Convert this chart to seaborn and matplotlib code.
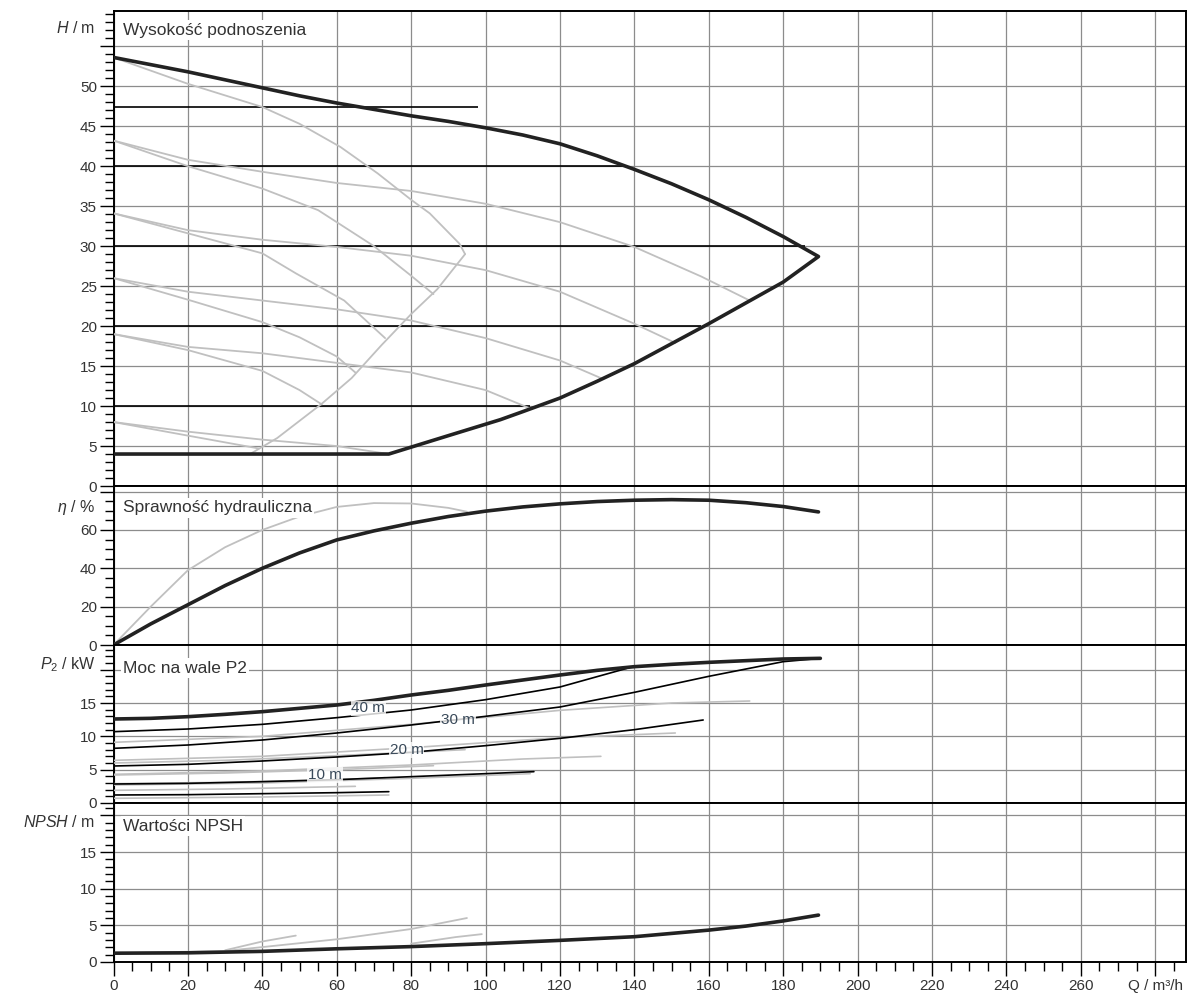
import matplotlib
matplotlib.use("Agg")
import matplotlib.pyplot as plt
import seaborn as sns
from matplotlib.ticker import MultipleLocator, FixedLocator, FuncFormatter

# ---------------- data ----------------
# Head H [m] - thick envelope (max speed curve, then lower limit back to Q=0)
env_q = [0, 10, 20, 30, 40, 50, 60, 70, 80, 90, 100, 110, 120, 130, 140, 150, 160, 170, 180, 189.5,
         180, 170, 160, 150, 140, 130, 120, 110, 104, 90, 74, 0]
env_h = [53.6, 52.7, 51.8, 50.8, 49.8, 48.8, 47.9, 47.1, 46.3, 45.6, 44.8, 43.9, 42.8, 41.3, 39.6,
         37.8, 35.8, 33.6, 31.2, 28.7,
         25.5, 22.9, 20.3, 17.8, 15.3, 13.1, 11.0, 9.3, 8.3, 6.3, 4.0, 4.0]

# grey speed curves (flat family)
h43_q = [0, 20, 40, 60, 80, 100, 120, 140, 158, 171]
h43_h = [43.2, 40.8, 39.3, 37.9, 36.9, 35.3, 33.0, 29.9, 26.2, 23.2]
h34_q = [0, 20, 40, 60, 80, 100, 120, 140, 151]
h34_h = [34.1, 32.0, 30.8, 29.9, 28.8, 27.0, 24.3, 20.3, 17.9]
h26_q = [0, 20, 40, 60, 80, 100, 120, 131]
h26_h = [26.0, 24.3, 23.2, 22.1, 20.7, 18.5, 15.7, 13.5]
h19_q = [0, 20, 40, 60, 80, 100, 112]
h19_h = [19.0, 17.4, 16.6, 15.4, 14.2, 12.0, 9.7]
h8_q = [0, 20, 40, 60, 74]
h8_h = [8.0, 6.8, 5.8, 5.0, 4.0]

# grey speed curves (steep family)
s53_q = [0, 20, 40, 50, 61, 71, 80, 85, 93, 94.5]
s53_h = [53.6, 50.3, 47.4, 45.3, 42.4, 39.1, 35.8, 34.1, 30.3, 29.0]
s43_q = [0, 20, 40, 55, 70, 80, 86]
s43_h = [43.2, 40.0, 37.2, 34.5, 30.0, 26.3, 24.0]
s34_q = [0, 20, 40, 49, 62, 73]
s34_h = [34.1, 31.6, 29.1, 26.6, 23.2, 18.5]
s26_q = [0, 20, 40, 50, 60, 65]
s26_h = [26.0, 23.3, 20.5, 18.6, 16.2, 14.2]
s19_q = [0, 20, 40, 50, 56]
s19_h = [19.0, 17.0, 14.4, 12.0, 10.2]
s8_q = [0, 20, 39]
s8_h = [8.0, 6.3, 4.7]

# grey limit line of the steep family
lim_q = [36.7, 44, 56, 64, 72, 80, 87, 94.5]
lim_h = [4.0, 6.0, 10.3, 13.5, 17.6, 21.5, 24.6, 29.0]

# constant head control lines (black)
dp_levels = [10, 20, 30, 40, 47.4]
dp_q_end = [112, 158, 186, 137, 98]

# Efficiency [%]
eta_q = [0, 10, 20, 30, 40, 50, 60, 70, 80, 90, 100, 110, 120, 130, 140, 150,
         160, 170, 180, 189.5]
eta = [0, 11, 21, 31, 40, 48, 54.8, 59.5, 63.5, 67, 69.8, 72, 73.6, 74.8, 75.5,
       75.8, 75.5, 74.2, 72.2, 69.4]
eta_grey_q = [0, 10, 20, 30, 40, 50, 60, 70, 80, 90, 95]
eta_grey = [0, 20, 39, 51, 60, 67, 72, 74, 73.8, 71.5, 69.5]

# Shaft power P2 [kW]
p_max_q = [0, 10, 20, 30, 40, 50, 60, 70, 80, 90, 100, 110, 120, 130, 140, 150, 160, 170, 180, 190]
p_max = [12.6, 12.7, 12.95, 13.3, 13.7, 14.2, 14.7, 15.4, 16.2, 16.9, 17.7, 18.45, 19.2, 19.9,
         20.45, 20.8, 21.1, 21.35, 21.6, 21.7]
p40_q = [0, 20, 40, 60, 80, 100, 120, 138]
p40 = [10.7, 11.1, 11.8, 12.8, 13.95, 15.5, 17.4, 20.2]
p30_q = [0, 20, 40, 60, 80, 100, 120, 140, 160, 180, 190]
p30 = [8.2, 8.7, 9.45, 10.5, 11.7, 13.0, 14.4, 16.6, 19.0, 21.2, 21.7]
p20_q = [0, 20, 40, 60, 80, 100, 120, 140, 158.5]
p20 = [5.55, 5.8, 6.3, 6.9, 7.6, 8.6, 9.7, 11.0, 12.45]
p10_q = [0, 20, 40, 60, 80, 100, 113]
p10 = [2.85, 2.95, 3.2, 3.5, 3.95, 4.4, 4.7]
p4_q = [0, 20, 40, 60, 74]
p4 = [1.2, 1.25, 1.4, 1.55, 1.7]
p_labels = ["40 m", "30 m", "20 m", "10 m"]
p_label_q = [68.5, 92.6, 78.8, 56.9]
p_label_p = [14.2, 12.45, 7.95, 4.2]

pg43_q = [0, 40, 80, 120, 150, 171]
pg43 = [9.1, 10.0, 11.8, 13.9, 15.0, 15.3]
pg34_q = [0, 40, 80, 120, 151]
pg34 = [6.4, 7.0, 8.3, 9.8, 10.5]
pg26_q = [0, 40, 80, 110, 131]
pg26 = [4.3, 4.8, 5.7, 6.6, 7.0]
pg19_q = [0, 40, 80, 112]
pg19 = [2.7, 3.0, 3.7, 4.4]
pg8_q = [0, 40, 74]
pg8 = [0.7, 0.9, 1.2]
ps53_q = [0, 30, 60, 94.5]
ps53 = [6.0, 6.4, 7.1, 8.0]
ps43_q = [0, 30, 60, 86]
ps43 = [4.2, 4.5, 5.0, 5.6]
ps34_q = [0, 30, 60, 73]
ps34 = [2.9, 3.1, 3.5, 3.8]
ps26_q = [0, 30, 65]
ps26 = [1.9, 2.1, 2.5]

# NPSH [m]
npsh_q = [0, 20, 40, 60, 80, 100, 120, 140, 160, 170, 180, 189.5]
npsh = [1.2, 1.25, 1.45, 1.8, 2.1, 2.5, 2.95, 3.45, 4.35, 4.9, 5.6, 6.4]
ng1_q = [0, 30, 45, 60, 80, 95]
ng1 = [1.2, 1.5, 2.3, 3.1, 4.5, 6.0]
ng2_q = [30, 40, 49]
ng2 = [1.6, 2.8, 3.6]
ng3_q = [80, 92, 99]
ng3 = [2.5, 3.4, 3.8]

x_ticks = list(range(0, 281, 20))
x_tick_labels = [str(v) for v in x_ticks[:-1]] + ["Q / m³/h"]

# ---------------- style ----------------
sns.set_style("ticks")
plt.rcParams["font.family"] = ["Liberation Sans", "DejaVu Sans"]
plt.rcParams["mathtext.fontset"] = "custom"
plt.rcParams["mathtext.it"] = "Liberation Sans:italic"
plt.rcParams["mathtext.rm"] = "Liberation Sans"

GREY = "#c0c0c0"
GRID = "#8c8c8c"
TXT = "#333333"

fig = plt.figure(figsize=(11.95, 10.05), dpi=100)
L, W = 0.0950, 0.8975
ax_h = fig.add_axes([L, 0.5164, W, 0.4726])
ax_e = fig.add_axes([L, 0.3582, W, 0.1582])
ax_p = fig.add_axes([L, 0.2010, W, 0.1572])
ax_n = fig.add_axes([L, 0.0428, W, 0.1582])


def style(ax, ymax, major, minor, hide_from, unit, unit_y, title, title_y, bottom=False):
    ax.set_xlim(0, 288.3)
    ax.set_ylim(0, ymax)
    ax.xaxis.set_major_locator(FixedLocator(x_ticks))
    ax.xaxis.set_minor_locator(MultipleLocator(5))
    ax.yaxis.set_major_locator(MultipleLocator(major))
    ax.yaxis.set_minor_locator(MultipleLocator(minor))
    ax.yaxis.set_major_formatter(FuncFormatter(lambda v, p: "" if v >= hide_from else f"{v:g}"))
    ax.grid(True, which="major", color=GRID, lw=0.9)
    ax.set_axisbelow(True)
    for s in ax.spines.values():
        s.set_color("black")
        s.set_linewidth(1.4)
    ax.tick_params(which="major", direction="out", length=10, width=1, color="black",
                   labelsize=11, labelcolor=TXT, pad=2)
    ax.tick_params(which="minor", direction="out", length=6.5, width=1, color="black")
    if bottom:
        ax.set_xticklabels(x_tick_labels)
    else:
        ax.tick_params(axis="x", which="both", bottom=False, labelbottom=False)
    ax.set_xlabel("")
    ax.set_ylabel("")
    ax.text(-0.017, unit_y, unit, transform=ax.get_yaxis_transform(), ha="right",
            va="center", fontsize=11.5, color=TXT)
    ax.text(0.009, title_y, title, transform=ax.transAxes, ha="left", va="center",
            fontsize=12.5, color=TXT, zorder=10,
            bbox=dict(facecolor="white", edgecolor="none", pad=1.5))


def line(ax, q, v, color, lw, z=3):
    sns.lineplot(x=q, y=v, ax=ax, color=color, linewidth=lw, sort=False,
                 estimator=None, zorder=z)


# Head panel
for q, h in [(h43_q, h43_h), (h34_q, h34_h), (h26_q, h26_h), (h19_q, h19_h), (h8_q, h8_h),
             (s53_q, s53_h), (s43_q, s43_h), (s34_q, s34_h), (s26_q, s26_h),
             (s19_q, s19_h), (s8_q, s8_h), (lim_q, lim_h)]:
    line(ax_h, q, h, GREY, 1.3)
for lev, qe in zip(dp_levels, dp_q_end):
    ax_h.hlines(lev, 0, qe, color="black", lw=1.2, zorder=2.5)
line(ax_h, env_q, env_h, "#222222", 2.6, z=4)
style(ax_h, 59.4, 5, 1, 55, r"$\mathit{H}$ / m", 57.3, "Wysokość podnoszenia", 0.96)

# Efficiency panel
line(ax_e, eta_grey_q, eta_grey, GREY, 1.3)
line(ax_e, eta_q, eta, "#222222", 2.6, z=4)
style(ax_e, 82.9, 20, 5, 80, r"$\mathit{\eta}$ / %", 71.5, "Sprawność hydrauliczna", 0.862)

# Power panel
for q, p in [(pg43_q, pg43), (pg34_q, pg34), (pg26_q, pg26), (pg19_q, pg19), (pg8_q, pg8),
             (ps53_q, ps53), (ps43_q, ps43), (ps34_q, ps34), (ps26_q, ps26)]:
    line(ax_p, q, p, GREY, 1.2)
for q, p in [(p40_q, p40), (p30_q, p30), (p20_q, p20), (p10_q, p10), (p4_q, p4)]:
    line(ax_p, q, p, "black", 1.2, z=3.5)
line(ax_p, p_max_q, p_max, "#222222", 2.6, z=4)
for t, q, p in zip(p_labels, p_label_q, p_label_p):
    ax_p.text(q, p, t, ha="center", va="center", fontsize=11, color="#3a4a5a", zorder=5,
              bbox=dict(facecolor="white", edgecolor="none", pad=0.5, alpha=0.8))
style(ax_p, 23.7, 5, 1, 20, r"$\mathit{P}_2$ / kW", 20.7, "Moc na wale P2", 0.854)

# NPSH panel
for q, n in [(ng1_q, ng1), (ng2_q, ng2), (ng3_q, ng3)]:
    line(ax_n, q, n, GREY, 1.3)
line(ax_n, npsh_q, npsh, "#222222", 2.6, z=4)
style(ax_n, 21.7, 5, 1, 20, r"$\mathit{NPSH}$ / m", 19.1, "Wartości NPSH", 0.855, bottom=True)

fig.savefig("out.png", dpi=100)
